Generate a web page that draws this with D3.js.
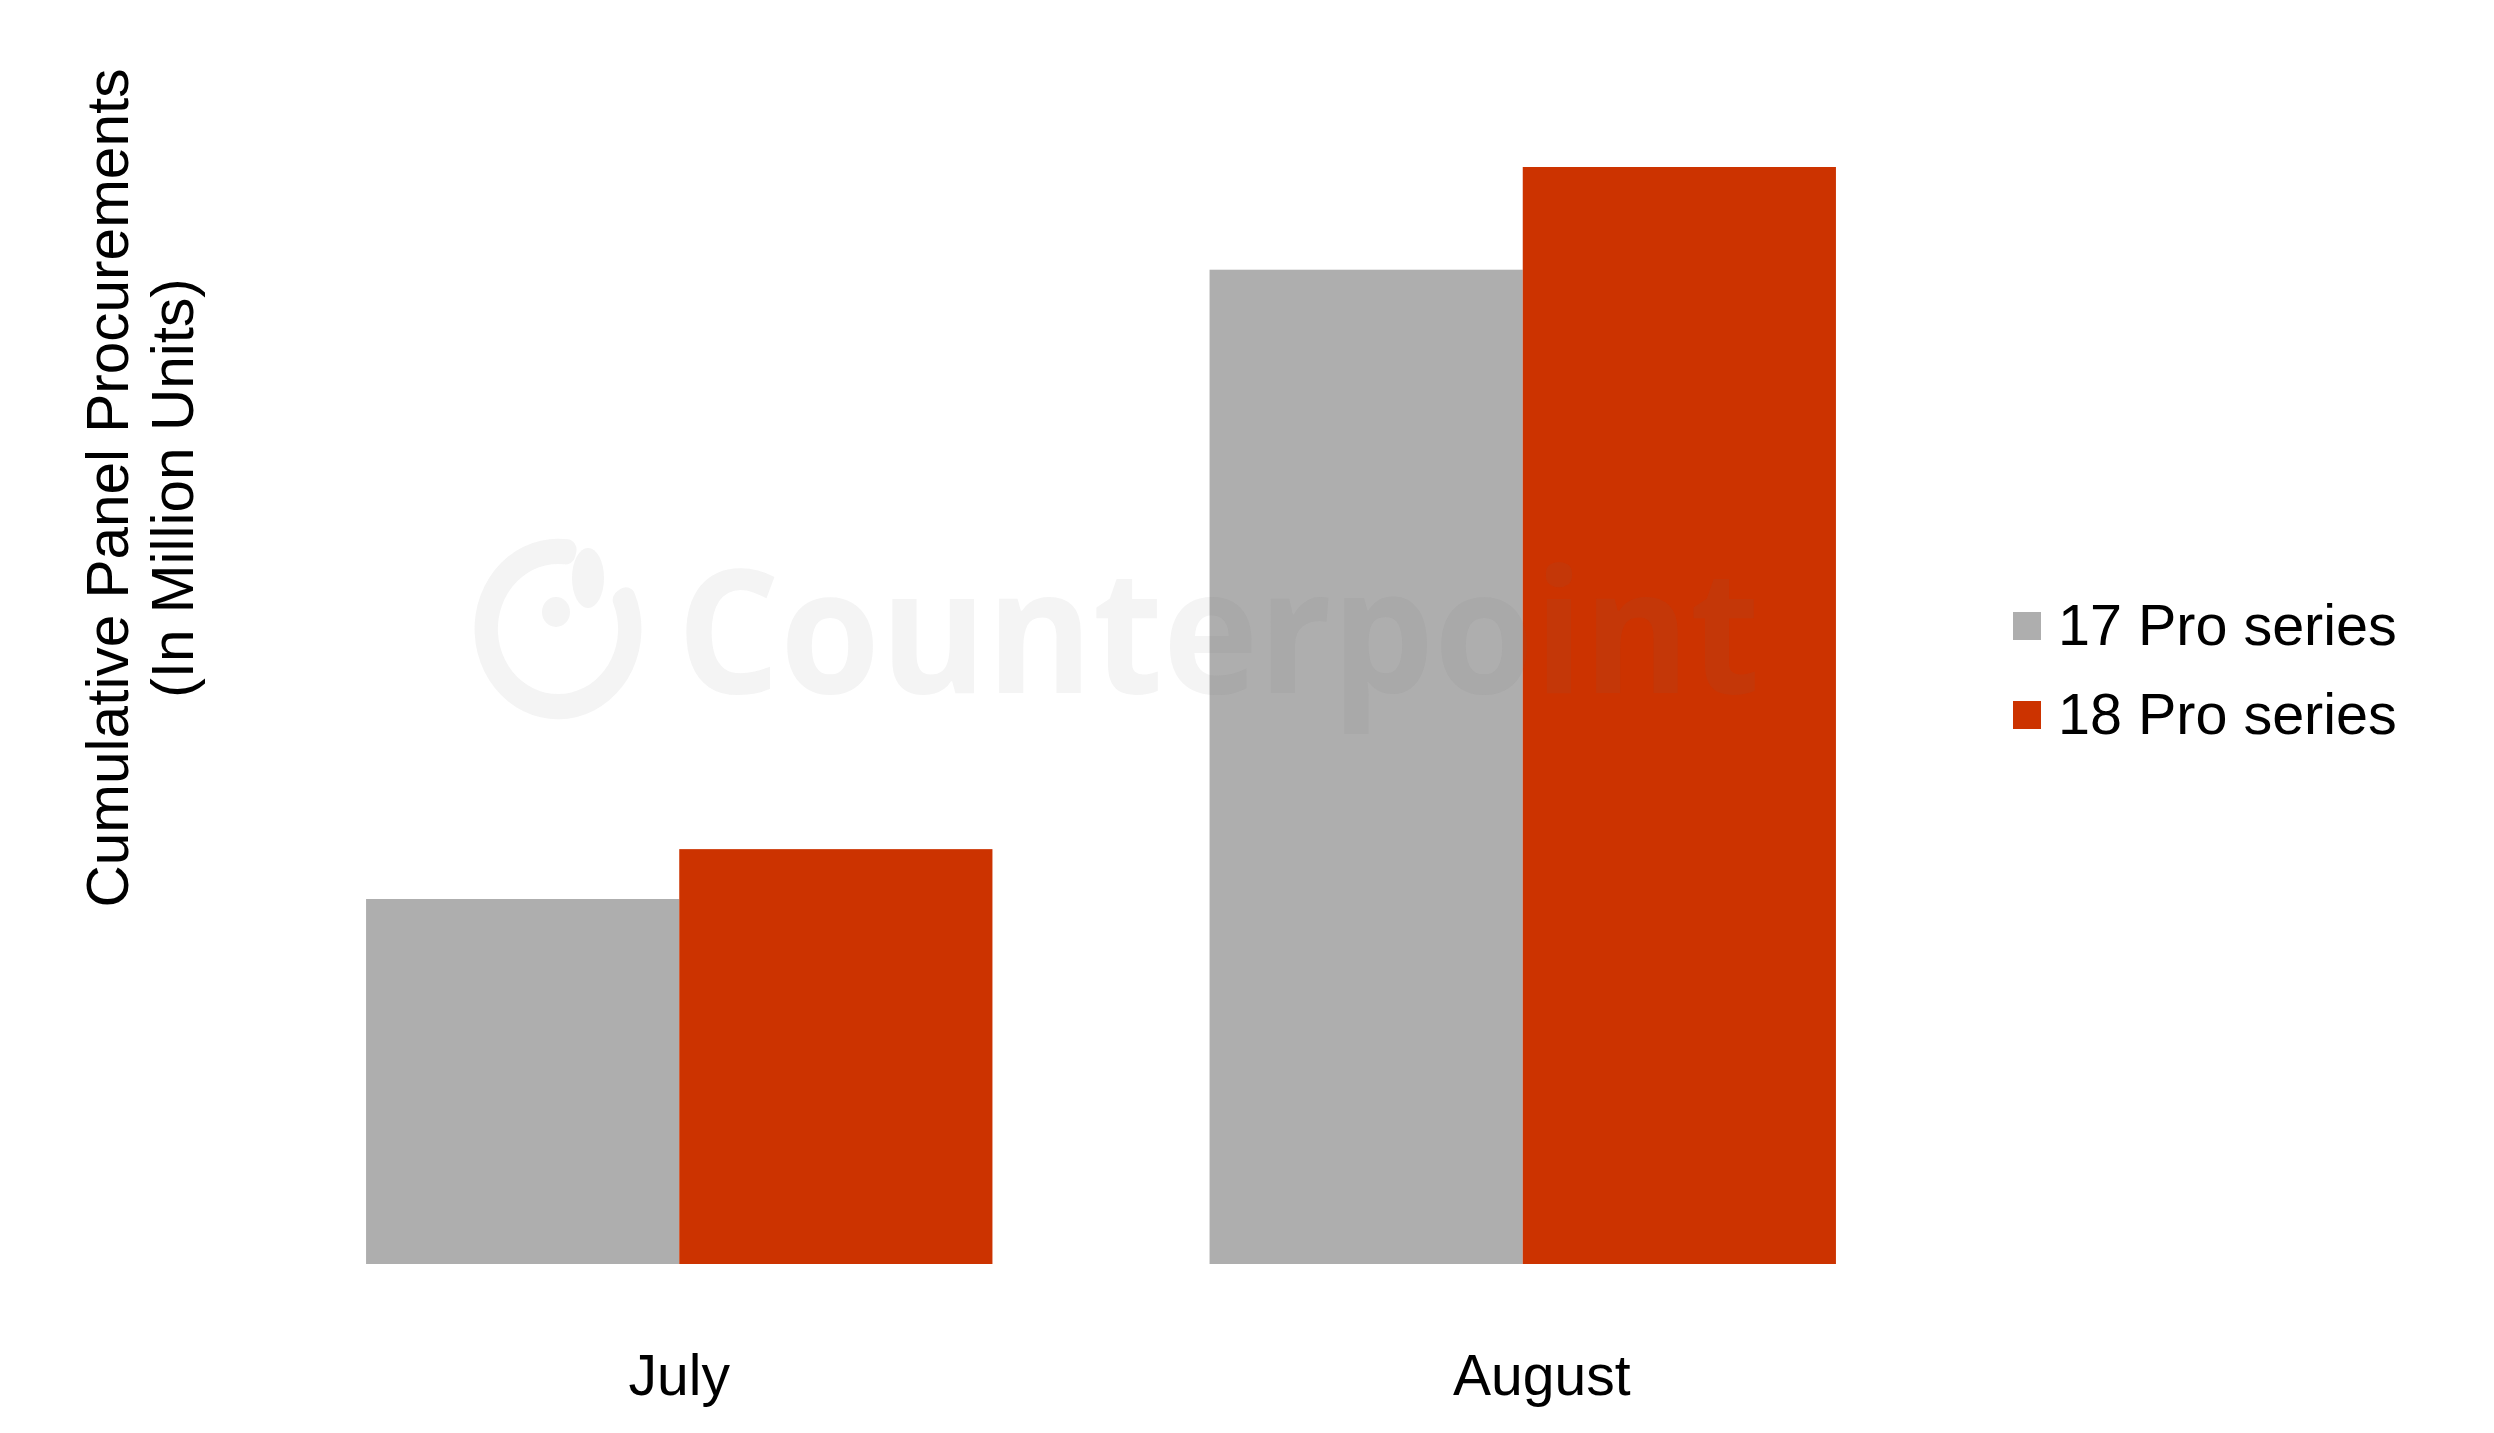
<!DOCTYPE html>
<html>
<head>
<meta charset="utf-8">
<script src="https://cdn.jsdelivr.net/npm/d3@7"></script>
<style>
  html, body { margin: 0; padding: 0; background: #fff; }
  svg { display: block; }
</style>
</head>
<body>
<svg id="chart" width="2494" height="1433"></svg>
<script>
// ---- data ----
const categories = ["July", "August"];
const seriesNames = ["17 Pro series", "18 Pro series"];
const series17 = [3.66, 9.97];
const series18 = [4.16, 11.0];
const seriesColors = ["#AEAEAE", "#CC3300"];
const yTitleLines = ["Cumulative Panel Procurements", "(In Million Units)"];
const watermarkText = "Counterpoint";

const rows = categories.map((c, i) => ({ cat: c, values: [series17[i], series18[i]] }));

const svg = d3.select("#chart");
const W = 2494, H = 1433;
const FONT = "'Liberation Sans', Arial, Helvetica, sans-serif";

svg.append("rect").attr("width", W).attr("height", H).attr("fill", "#fff");

const baseY = 1264;
const x0 = d3.scaleBand().domain(categories).range([257.5, 1944.5])
  .paddingInner(0.2574).paddingOuter(0.1287);
const x1 = d3.scaleBand().domain(seriesNames).range([0, x0.bandwidth()]).padding(0);
const y = d3.scaleLinear().domain([0, 12]).range([baseY, baseY - 1097 * 12 / 11]);

// bars
const g = svg.append("g");
g.selectAll("g.grp").data(rows).join("g")
  .attr("class", "grp")
  .attr("transform", d => `translate(${x0(d.cat)},0)`)
  .selectAll("rect").data(d => d.values.map((v, j) => ({ name: seriesNames[j], v, j })))
  .join("rect")
  .attr("x", d => x1(d.name))
  .attr("width", x1.bandwidth())
  .attr("y", d => y(d.v))
  .attr("height", d => y(0) - y(d.v))
  .attr("fill", d => seriesColors[d.j]);

// x axis labels
const xAxis = d3.axisBottom(x0).tickSize(0).tickPadding(0);
const ax = svg.append("g").attr("transform", `translate(0,${baseY})`).call(xAxis);
ax.select(".domain").remove();
ax.selectAll("text")
  .attr("y", 131).attr("dy", 0)
  .attr("dx", (d, i) => (i === 1 ? 19 : 0))
  .attr("font-family", FONT).attr("font-size", 57).attr("fill", "#000");

// y title
const yt = svg.append("text")
  .attr("transform", "rotate(-90)")
  .attr("text-anchor", "middle")
  .attr("font-family", FONT).attr("font-size", 58.5).attr("fill", "#000");
yt.selectAll("tspan").data(yTitleLines).join("tspan")
  .attr("x", -488)
  .attr("y", (d, i) => 128 + i * 65)
  .text(d => d);

// legend
const lg = svg.append("g").attr("transform", "translate(2013,612)");
const li = lg.selectAll("g").data(seriesNames).join("g")
  .attr("transform", (d, i) => `translate(0,${i * 89})`);
li.append("rect").attr("width", 28).attr("height", 28)
  .attr("fill", (d, i) => seriesColors[i]);
li.append("text").attr("x", 45).attr("y", 33)
  .attr("font-family", FONT).attr("font-size", 57.5).attr("fill", "#000")
  .text(d => d);

// watermark
const wm = svg.append("g").attr("fill", "#6b6b6b").attr("opacity", 0.075)
  .style("pointer-events", "none");
wm.append("text")
  .attr("x", 677).attr("y", 693)
  .attr("font-family", "'Open Sans', 'Noto Sans', sans-serif")
  .attr("font-weight", 700).attr("font-size", 172)
  .attr("textLength", 1083).attr("lengthAdjust", "spacingAndGlyphs")
  .text(watermarkText);
const ring = d3.arc().innerRadius(62).outerRadius(86)
  .startAngle(Math.PI * 0.33).endAngle(Math.PI * 2.08).cornerRadius(10);
wm.append("path").attr("transform", "translate(558,629) scale(0.97,1.05)").attr("d", ring());
wm.append("ellipse").attr("cx", 588).attr("cy", 578).attr("rx", 16).attr("ry", 30);
wm.append("ellipse").attr("cx", 556).attr("cy", 612).attr("rx", 14).attr("ry", 15);
</script>
</body>
</html>
